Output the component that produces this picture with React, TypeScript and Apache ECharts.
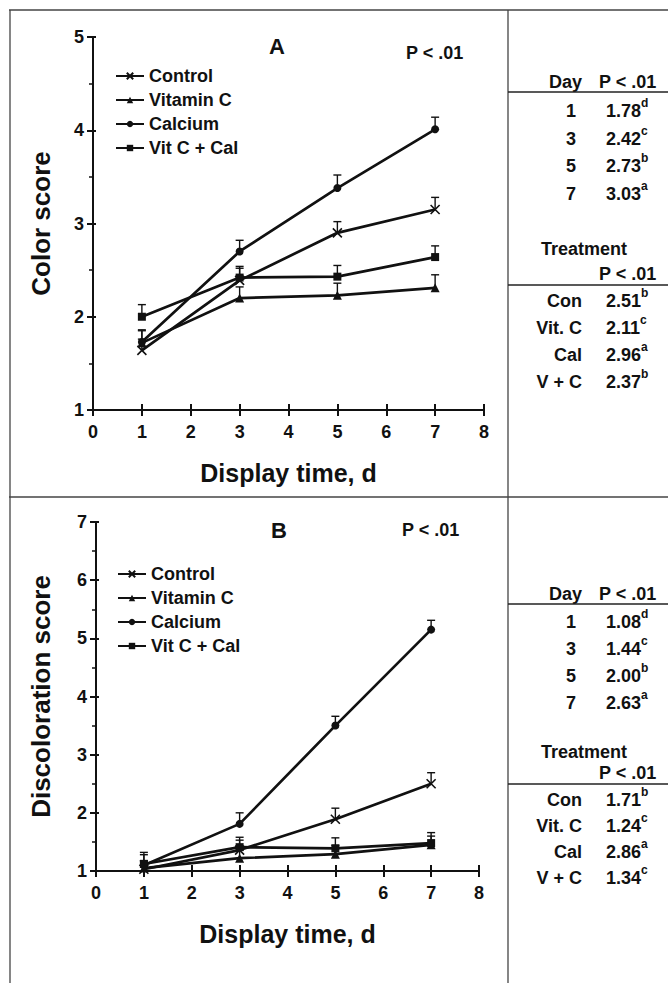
import React, { useEffect, useRef } from "react";
import * as echarts from "echarts";

// ---- data ----
const days = [1, 3, 5, 7];
const seriesNames = ["Control", "Vitamin C", "Calcium", "Vit C + Cal"];
const xTicks = [0, 1, 2, 3, 4, 5, 6, 7, 8];

// Panel A: colour score (means and upward SE)
const colorControl = [1.64, 2.39, 2.9, 3.15];
const colorVitC = [1.72, 2.2, 2.23, 2.31];
const colorCalcium = [1.73, 2.7, 3.38, 4.01];
const colorVitCCal = [2.0, 2.42, 2.43, 2.64];
const colorControlSE = [0.12, 0.13, 0.12, 0.13];
const colorVitCSE = [0.13, 0.12, 0.13, 0.14];
const colorCalciumSE = [0.13, 0.12, 0.14, 0.13];
const colorVitCCalSE = [0.13, 0.12, 0.12, 0.12];

// Panel B: discoloration score
const discControl = [1.03, 1.36, 1.89, 2.5];
const discVitC = [1.05, 1.22, 1.29, 1.45];
const discCalcium = [1.1, 1.81, 3.5, 5.15];
const discVitCCal = [1.12, 1.41, 1.39, 1.48];
const discControlSE = [0.15, 0.17, 0.19, 0.19];
const discVitCSE = [0.12, 0.14, 0.15, 0.15];
const discCalciumSE = [0.18, 0.19, 0.16, 0.16];
const discVitCCalSE = [0.2, 0.17, 0.18, 0.18];

// Side tables
const tableDays = ["1", "3", "5", "7"];
const treatmentLabels = ["Con", "Vit. C", "Cal", "V + C"];
const colorDayMeans = ["1.78", "2.42", "2.73", "3.03"];
const colorDayLetters = ["d", "c", "b", "a"];
const colorTrtMeans = ["2.51", "2.11", "2.96", "2.37"];
const colorTrtLetters = ["b", "c", "a", "b"];
const discDayMeans = ["1.08", "1.44", "2.00", "2.63"];
const discDayLetters = ["d", "c", "b", "a"];
const discTrtMeans = ["1.71", "1.24", "2.86", "1.34"];
const discTrtLetters = ["b", "c", "a", "c"];

const FONT = '"Liberation Sans", Arial, Helvetica, sans-serif';
const INK = "#111";
const symbols = ["path://M0,0L10,10M10,0L0,10", "triangle", "circle", "rect"];
const symbolSizes = [9, 9, 8, 8];

function lineSeries(values: number[][], xAxisIndex: number, yAxisIndex: number) {
  return values.map((vals, i) => ({
    type: "line",
    name: seriesNames[i],
    xAxisIndex,
    yAxisIndex,
    data: days.map((d, k) => [d, vals[k]]),
    symbol: symbols[i],
    symbolSize: symbolSizes[i],
    symbolKeepAspect: true,
    showSymbol: true,
    lineStyle: { color: INK, width: 2.7 },
    itemStyle: { color: INK, borderColor: INK, borderWidth: i === 0 ? 1.6 : 0 },
    z: 3,
  }));
}

function errorSeries(values: number[][], errs: number[][], xAxisIndex: number, yAxisIndex: number) {
  const data: number[][] = [];
  values.forEach((vals, i) => days.forEach((d, k) => data.push([d, vals[k], errs[i][k]])));
  return {
    type: "custom",
    name: "se",
    xAxisIndex,
    yAxisIndex,
    data,
    encode: { x: 0, y: 1 },
    z: 2,
    renderItem: (_p: any, api: any) => {
      const x = api.value(0);
      const y = api.value(1);
      const e = api.value(2);
      const p0 = api.coord([x, y]);
      const p1 = api.coord([x, y + e]);
      const hw = 4;
      const st = { stroke: INK, lineWidth: 1.4 };
      return {
        type: "group",
        children: [
          { type: "line", shape: { x1: p0[0], y1: p0[1], x2: p1[0], y2: p1[1] }, style: st },
          { type: "line", shape: { x1: p1[0] - hw, y1: p1[1], x2: p1[0] + hw, y2: p1[1] }, style: st },
        ],
      };
    },
  };
}

function xAxes(gridIndex: number) {
  const base = {
    type: "value",
    gridIndex,
    position: "bottom",
    min: 0,
    max: 8,
    interval: 1,
    splitLine: { show: false },
  };
  return [
    {
      ...base,
      name: "Display time, d",
      nameLocation: "middle",
      nameGap: 50,
      nameTextStyle: { fontFamily: FONT, fontWeight: "bold", fontSize: 25, color: INK },
      axisLine: { show: true, onZero: false, lineStyle: { color: INK, width: 2 } },
      axisTick: { show: true, inside: false, length: 6, lineStyle: { color: INK, width: 2 } },
      axisLabel: {
        show: true,
        margin: 13,
        fontFamily: FONT,
        fontWeight: "bold",
        fontSize: 18,
        color: INK,
        formatter: (v: number) => (xTicks.includes(v) ? String(v) : ""),
      },
    },
    {
      ...base,
      axisLine: { show: false, onZero: false },
      axisTick: { show: true, inside: true, length: 6, lineStyle: { color: INK, width: 2 } },
      axisLabel: { show: false },
    },
  ];
}

function yAxes(gridIndex: number, min: number, max: number, name: string, nameGap: number) {
  const base = {
    type: "value",
    gridIndex,
    position: "left",
    min,
    max,
    interval: 1,
    splitLine: { show: false },
  };
  return [
    {
      ...base,
      name,
      nameLocation: "middle",
      nameGap,
      nameTextStyle: { fontFamily: FONT, fontWeight: "bold", fontSize: 26, color: INK },
      axisLine: { show: true, onZero: false, lineStyle: { color: INK, width: 2 } },
      axisTick: { show: true, inside: false, length: 6, lineStyle: { color: INK, width: 2 } },
      minorTick: { show: true, splitNumber: 2, length: 4, lineStyle: { color: INK, width: 1.5 } },
      axisLabel: { margin: 9, fontFamily: FONT, fontWeight: "bold", fontSize: 18, color: INK },
    },
    {
      ...base,
      axisLine: { show: false, onZero: false },
      axisTick: { show: true, inside: true, length: 3, lineStyle: { color: INK, width: 2 } },
      axisLabel: { show: false },
    },
  ];
}

function legend(left: number, top: number) {
  return {
    orient: "vertical",
    left,
    top,
    padding: 0,
    data: seriesNames,
    itemWidth: 28,
    itemHeight: 8,
    itemGap: 6,
    selectedMode: false,
    textStyle: { fontFamily: FONT, fontWeight: "bold", fontSize: 18, color: INK },
  };
}

const richStyles = {
  v: { fontFamily: FONT, fontWeight: "bold", fontSize: 18, fill: INK, lineHeight: 28 },
  s: { fontFamily: FONT, fontWeight: "bold", fontSize: 12, fill: INK, verticalAlign: "top", lineHeight: 8 },
};

function txt(x: number, y: number, text: string, align: string, size = 18) {
  return {
    type: "text",
    x,
    y,
    silent: true,
    style: {
      text,
      fontFamily: FONT,
      fontWeight: "bold",
      fontSize: size,
      fill: INK,
      align,
      verticalAlign: "middle",
    },
  };
}

function valueTxt(x: number, y: number, value: string, letter: string) {
  return {
    type: "text",
    x,
    y,
    silent: true,
    style: {
      text: `{v|${value}}{s|${letter}}`,
      rich: richStyles,
      align: "left",
      verticalAlign: "middle",
    },
  };
}

function hline(x1: number, x2: number, y: number, color = "#222", w = 1.3) {
  return { type: "line", silent: true, shape: { x1, y1: y, x2, y2: y }, style: { stroke: color, lineWidth: w } };
}
function vline(x: number, y1: number, y2: number, color = "#444", w = 1.3) {
  return { type: "line", silent: true, shape: { x1: x, y1, x2: x, y2 }, style: { stroke: color, lineWidth: w } };
}

// One side table: top section by day, bottom by treatment
function sideTable(
  rows: { head: number; line1: number; dayRows: number[]; trt: number; p2: number; line2: number; trtRows: number[] },
  dayMeans: string[],
  dayLetters: string[],
  trtMeans: string[],
  trtLetters: string[]
) {
  const labelRight = 582;
  const valueLeft = 606;
  const els: any[] = [];
  els.push(txt(labelRight, rows.head, "Day", "right"));
  els.push(txt(599, rows.head, "P < .01", "left"));
  els.push(hline(508, 668, rows.line1));
  tableDays.forEach((d, i) => {
    els.push(txt(labelRight - 6, rows.dayRows[i], d, "right"));
    els.push(valueTxt(valueLeft, rows.dayRows[i], dayMeans[i], dayLetters[i]));
  });
  els.push(txt(541, rows.trt, "Treatment", "left"));
  els.push(txt(599, rows.p2, "P < .01", "left"));
  els.push(hline(508, 668, rows.line2));
  treatmentLabels.forEach((t, i) => {
    els.push(txt(labelRight, rows.trtRows[i], t, "right"));
    els.push(valueTxt(valueLeft, rows.trtRows[i], trtMeans[i], trtLetters[i]));
  });
  return els;
}

export default function App() {
  const ref = useRef<HTMLDivElement>(null);

  useEffect(() => {
    if (!ref.current) return;
    const chart = echarts.init(ref.current, undefined, { renderer: "svg" });

    const colorVals = [colorControl, colorVitC, colorCalcium, colorVitCCal];
    const colorErrs = [colorControlSE, colorVitCSE, colorCalciumSE, colorVitCCalSE];
    const discVals = [discControl, discVitC, discCalcium, discVitCCal];
    const discErrs = [discControlSE, discVitCSE, discCalciumSE, discVitCCalSE];

    const graphics: any[] = [
      // frame
      hline(9, 668, 10, "#444"),
      hline(9, 668, 497, "#444"),
      vline(10, 10, 983),
      vline(508, 10, 983),
      // panel letters and P values
      txt(277, 46, "A", "center", 22),
      txt(406, 53, "P < .01", "left", 18),
      txt(279, 530, "B", "center", 22),
      txt(402, 530, "P < .01", "left", 18),
      ...sideTable(
        {
          head: 82,
          line1: 92,
          dayRows: [111, 139, 166, 194],
          trt: 249,
          p2: 274,
          line2: 285,
          trtRows: [301, 328, 355, 382],
        },
        colorDayMeans,
        colorDayLetters,
        colorTrtMeans,
        colorTrtLetters
      ),
      ...sideTable(
        {
          head: 594,
          line1: 604,
          dayRows: [622, 649, 676, 703],
          trt: 752,
          p2: 773,
          line2: 784,
          trtRows: [800, 826, 852, 878],
        },
        discDayMeans,
        discDayLetters,
        discTrtMeans,
        discTrtLetters
      ),
    ];

    chart.setOption({
      animation: false,
      backgroundColor: "#fff",
      grid: [
        { left: 93, top: 37, width: 391, height: 373 },
        { left: 96, top: 522, width: 383, height: 349 },
      ],
      xAxis: [...xAxes(0), ...xAxes(1)],
      yAxis: [...yAxes(0, 1, 5, "Color score", 39), ...yAxes(1, 1, 7, "Discoloration score", 42)],
      legend: [legend(115, 67), legend(117, 565)],
      series: [
        errorSeries(colorVals, colorErrs, 0, 0),
        ...lineSeries(colorVals, 0, 0),
        errorSeries(discVals, discErrs, 2, 2),
        ...lineSeries(discVals, 2, 2),
      ],
      graphic: graphics,
    });

    return () => chart.dispose();
  }, []);

  return (
    <div
      ref={ref}
      style={{ position: "fixed", left: 0, top: 0, width: 668, height: 983, background: "#fff" }}
    />
  );
}
